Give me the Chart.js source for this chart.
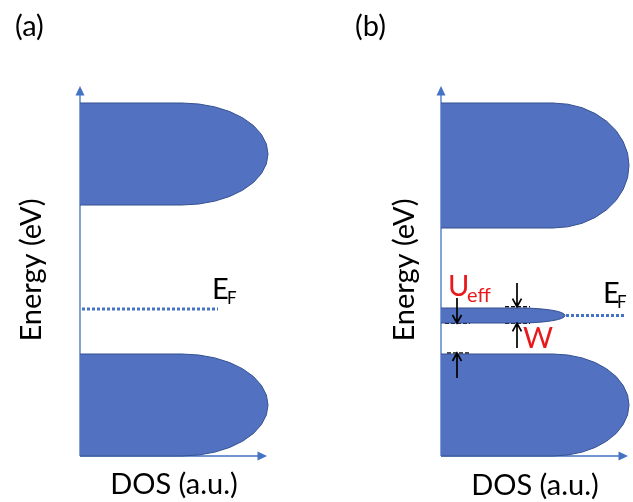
<!DOCTYPE html>
<html>
<head>
<meta charset="utf-8">
<title>Band diagram</title>
<script src="https://cdn.jsdelivr.net/npm/chart.js@4.4.1/dist/chart.umd.min.js"></script>
<style>
  html, body { margin: 0; padding: 0; background: #ffffff; }
  #wrap { position: relative; width: 633px; height: 502px; overflow: hidden; }
  canvas { position: absolute; top: 0; }
  #chartA { left: 0; }
  #chartB { left: 316px; }
</style>
</head>
<body>
<div id="wrap">
  <canvas id="chartA" width="316" height="502"></canvas>
  <canvas id="chartB" width="317" height="502"></canvas>
</div>
<script>
// ---- Panel (a): band outlines, DOS (a.u.) against energy, top edge -> cap -> bottom edge
const aUpperDos    = [0, 10.2, 11.88, 13.49, 14.98, 16.28, 17.35, 18.15, 18.64, 18.8, 18.64, 18.15, 17.35, 16.28, 14.98, 13.49, 11.88, 10.2, 0];
const aUpperEnergy = [35.3, 35.3, 35.2, 34.91, 34.44, 33.81, 33.04, 32.15, 31.19, 30.2, 29.21, 28.25, 27.36, 26.59, 25.96, 25.49, 25.2, 25.1, 25.1];
const aLowerDos    = [0, 10.2, 11.88, 13.49, 14.98, 16.28, 17.35, 18.15, 18.64, 18.8, 18.64, 18.15, 17.35, 16.28, 14.98, 13.49, 11.88, 10.2, 0];
const aLowerEnergy = [10.2, 10.2, 10.1, 9.81, 9.34, 8.71, 7.94, 7.05, 6.09, 5.1, 4.11, 3.15, 2.26, 1.49, 0.86, 0.39, 0.1, 0, 0];
const aFermiDos    = [0.2, 13.8];
const aFermiEnergy = [14.7, 14.7];

// ---- Panel (b): upper band, narrow impurity band, lower band
const bUpperDos     = [0, 11.2, 12.68, 14.11, 15.43, 16.57, 17.52, 18.22, 18.66, 18.8, 18.66, 18.22, 17.52, 16.57, 15.43, 14.11, 12.68, 11.2, 0];
const bUpperEnergy  = [35.3, 35.3, 35.18, 34.83, 34.24, 33.47, 32.53, 31.44, 30.27, 29.05, 27.83, 26.66, 25.57, 24.63, 23.86, 23.27, 22.92, 22.8, 22.8];
const bNarrowDos    = [0, 7.9, 8.78, 9.62, 10.4, 11.08, 11.64, 12.06, 12.31, 12.4, 12.31, 12.06, 11.64, 11.08, 10.4, 9.62, 8.78, 7.9, 0];
const bNarrowEnergy = [14.8, 14.8, 14.79, 14.74, 14.67, 14.58, 14.47, 14.34, 14.2, 14.05, 13.9, 13.76, 13.63, 13.52, 13.43, 13.36, 13.31, 13.3, 13.3];
const bLowerDos     = [0, 11.2, 12.68, 14.11, 15.43, 16.57, 17.52, 18.22, 18.66, 18.8, 18.66, 18.22, 17.52, 16.57, 15.43, 14.11, 12.68, 11.2, 0];
const bLowerEnergy  = [10.2, 10.2, 10.1, 9.81, 9.34, 8.71, 7.94, 7.05, 6.09, 5.1, 4.11, 3.15, 2.26, 1.49, 0.86, 0.39, 0.1, 0, 0];
const bFermiDos     = [12.5, 18.4];
const bFermiEnergy  = [14.05, 14.05];

// short dashed guide marks in (b): [dosStart, dosEnd, energy]
const bGuides = [
  [6.4, 8.9, 14.93],
  [6.4, 8.9, 13.27],
  [0.4, 2.9, 13.27],
  [0.6, 2.9, 10.3]
];
// black arrows in (b): [dos, energyFrom, energyTo]
const bArrows = [
  [1.6, 15.8, 13.3],
  [1.6, 7.8, 10.3],
  [7.6, 17.3, 14.93],
  [7.6, 10.8, 13.27]
];

const energyMax = 37;
const dosMax = 18.8;

const bandFill = '#5271C1';
const bandEdge = '#34508F';
const axisBlue = '#4472C4';
const red = '#E8191C';
const FONT = 'Lato, "Open Sans", "DejaVu Sans", sans-serif';

function pts(xs, ys) { return xs.map((v, i) => ({ x: v, y: ys[i] })); }

function band(xs, ys) {
  return {
    data: pts(xs, ys),
    borderColor: bandEdge,
    borderWidth: 1,
    backgroundColor: bandFill,
    fill: 'origin',
    tension: 0,
    pointRadius: 0,
    clip: false
  };
}
function fermi(xs, ys) {
  return {
    data: pts(xs, ys),
    borderColor: axisBlue,
    borderWidth: 3,
    borderDash: [3, 2],
    borderCapStyle: 'butt',
    fill: false,
    tension: 0,
    pointRadius: 0,
    clip: false
  };
}
function guide(g) {
  return {
    data: [{ x: g[0], y: g[2] }, { x: g[1], y: g[2] }],
    borderColor: '#111111',
    borderWidth: 1.4,
    borderDash: [4, 2],
    fill: false,
    tension: 0,
    pointRadius: 0,
    clip: false
  };
}

function text(ctx, str, x, y, size, color, align) {
  ctx.font = size + 'px ' + FONT;
  ctx.fillStyle = color;
  ctx.textAlign = align || 'left';
  ctx.textBaseline = 'alphabetic';
  ctx.fillText(str, x, y);
}

// axes with arrow heads, labels and annotations
const panelDecor = {
  id: 'panelDecor',
  beforeDatasetsDraw(chart, args, o) {
    const { ctx, scales: { x, y } } = chart;
    const x0 = x.getPixelForValue(0), y0 = y.getPixelForValue(0);
    const yTop = y.getPixelForValue(energyMax);
    const xEnd = x.getPixelForValue(o.axisEnd);
    ctx.save();
    ctx.strokeStyle = axisBlue;
    ctx.fillStyle = axisBlue;
    ctx.lineWidth = 1.3;
    ctx.beginPath();
    ctx.moveTo(x0, y0); ctx.lineTo(x0, yTop + 8);
    ctx.moveTo(x0, y0); ctx.lineTo(xEnd - 8, y0);
    ctx.stroke();
    ctx.beginPath();
    ctx.moveTo(x0, yTop); ctx.lineTo(x0 - 4.5, yTop + 9.5); ctx.lineTo(x0 + 4.5, yTop + 9.5);
    ctx.closePath(); ctx.fill();
    ctx.beginPath();
    ctx.moveTo(xEnd, y0); ctx.lineTo(xEnd - 9.5, y0 - 4.5); ctx.lineTo(xEnd - 9.5, y0 + 4.5);
    ctx.closePath(); ctx.fill();
    ctx.restore();
  },
  afterDatasetsDraw(chart, args, o) {
    const { ctx, scales: { x, y } } = chart;
    ctx.save();
    // arrows
    ctx.strokeStyle = '#000000';
    ctx.lineWidth = 1.7;
    (o.arrows || []).forEach(([d, e0, e1]) => {
      const px = x.getPixelForValue(d);
      const p0 = y.getPixelForValue(e0), p1 = y.getPixelForValue(e1);
      const dir = p1 > p0 ? 1 : -1;
      ctx.beginPath();
      ctx.moveTo(px, p0); ctx.lineTo(px, p1);
      ctx.moveTo(px - 4.5, p1 - dir * 8); ctx.lineTo(px, p1); ctx.lineTo(px + 4.5, p1 - dir * 8);
      ctx.stroke();
    });
    // panel letter
    text(ctx, o.letter[0], o.letter[1], o.letter[2], 29, '#000');
    // axis titles
    text(ctx, 'DOS (a.u.)', o.xTitle[0], o.xTitle[1], 29, '#000', 'center');
    ctx.save();
    ctx.translate(o.yTitle[0], o.yTitle[1]);
    ctx.rotate(-Math.PI / 2);
    text(ctx, 'Energy (eV)', 0, 0, 29, '#000', 'center');
    ctx.restore();
    // Fermi level label
    text(ctx, 'E', o.ef[0], o.ef[1], 29, '#000');
    text(ctx, 'F', o.ef[2], o.ef[3], 17, '#000');
    // red labels
    if (o.ueff) {
      text(ctx, 'U', o.ueff[0], o.ueff[1], 29, red);
      text(ctx, 'eff', o.ueff[2], o.ueff[3], 20, red);
    }
    if (o.w) text(ctx, 'W', o.w[0], o.w[1], 29, red);
    ctx.restore();
  }
};

function makeChart(id, padding, datasets, decor) {
  return new Chart(document.getElementById(id), {
    type: 'line',
    data: { datasets },
    options: {
      indexAxis: 'y',
      responsive: false,
      animation: false,
      devicePixelRatio: 1,
      events: [],
      layout: { padding },
      scales: {
        x: { type: 'linear', min: 0, max: dosMax, display: false },
        y: { type: 'linear', min: 0, max: energyMax, display: false }
      },
      elements: { point: { radius: 0 }, line: { capBezierPoints: false } },
      plugins: {
        legend: { display: false },
        tooltip: { enabled: false },
        panelDecor: decor
      }
    },
    plugins: [panelDecor]
  });
}

makeChart('chartA', { left: 80, right: 48, top: 86, bottom: 46 }, [
  band(aUpperDos, aUpperEnergy),
  band(aLowerDos, aLowerEnergy),
  fermi(aFermiDos, aFermiEnergy)
], {
  axisEnd: 18.7,
  letter: ['(a)', 15, 36],
  xTitle: [174, 494],
  yTitle: [41, 270],
  ef: [212, 299, 227, 304]
});

makeChart('chartB', { left: 125, right: 4, top: 86, bottom: 46 }, [
  band(bUpperDos, bUpperEnergy),
  band(bNarrowDos, bNarrowEnergy),
  band(bLowerDos, bLowerEnergy),
  fermi(bFermiDos, bFermiEnergy),
  ...bGuides.map(guide)
], {
  axisEnd: 18.7,
  arrows: bArrows,
  letter: ['(b)', 39, 36],
  xTitle: [219, 495],
  yTitle: [98, 270],
  ef: [287, 303, 301, 308],
  ueff: [132, 296, 151, 302],
  w: [207, 348]
});
</script>
</body>
</html>
